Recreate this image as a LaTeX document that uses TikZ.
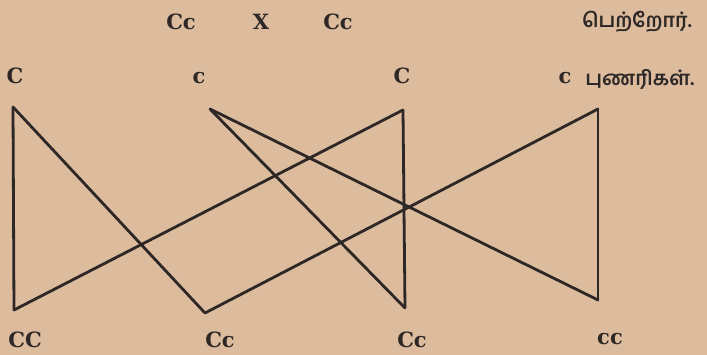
\documentclass[tikz,border=0pt]{standalone}
\usepackage{fontspec}
\newfontfamily\tamilfont[Script=Tamil,UprightFont=* SemiBold]{Hind Madurai}
\newfontfamily\labfont{DejaVu Serif}
\usepackage{xcolor}
\definecolor{paper}{RGB}{221,188,158}
\definecolor{ink}{RGB}{45,40,38}

\begin{document}
\begin{tikzpicture}[x=1pt,y=-1pt,
    lbl/.style={font=\fontsize{21}{21}\selectfont\labfont\bfseries,text=ink,inner sep=0pt},
    tml/.style={font=\fontsize{20}{20}\selectfont\tamilfont,text=ink,inner sep=0pt},
    ln/.style={draw=ink,line width=2.8pt,line join=round,line cap=round}]
    \fill[paper] (0,0) rectangle (707,355);
    % parents
    \node[lbl] (p1)  at (181,22) {Cc};
    \node[lbl] (x)   at (261,22) {X};
    \node[lbl] (p2)  at (338,22) {Cc};
    \node[tml] (par) at (637,22) {பெற்றோர்.};
    % gametes
    \node[lbl] (gC1) at (15,76)  {C};
    \node[lbl] (gc1) at (199,78) {c};
    \node[lbl] (gC2) at (402,76) {C};
    \node[lbl] (gc2) at (565,78) {c};
    \node[tml] (gam) at (640,79) {புணரிகள்.};
    % offspring
    \node[lbl] (oCC) at (25,340)  {CC};
    \node[lbl] (oCc) at (220,340) {Cc};
    \node[lbl] (oCd) at (412,340) {Cc};
    \node[lbl] (occ) at (610,339) {cc};
    % line ends
    \coordinate (a1) at (13,107);  \coordinate (a2) at (210,109);
    \coordinate (a3) at (403,110); \coordinate (a4) at (598,109);
    \coordinate (b1) at (14,310);  \coordinate (b2) at (205,313);
    \coordinate (b3) at (405,308); \coordinate (b4) at (598,300);
    \draw[ln](a1)--(b1); \draw[ln](a1)--(b2);
    \draw[ln](a2)--(b3); \draw[ln](a2)--(b4);
    \draw[ln](a3)--(b1); \draw[ln](a3)--(b3);
    \draw[ln](a4)--(b2); \draw[ln](a4)--(b4);
  \end{tikzpicture}
\end{document}
